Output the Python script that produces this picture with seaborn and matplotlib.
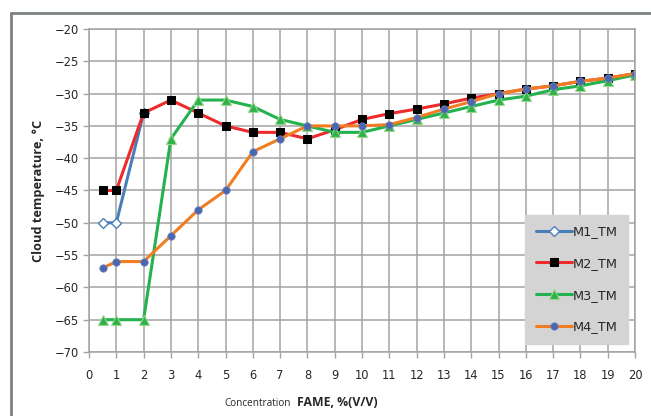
import matplotlib
matplotlib.use("Agg")
import matplotlib.pyplot as plt
import seaborn as sns
import pandas as pd
from matplotlib.lines import Line2D

# ---- data ----
x_m1 = [0.5, 1, 2]
m1_tm = [-50, -50, -33]

x_all = [0.5, 1, 2, 3, 4, 5, 6, 7, 8, 9, 10, 11, 12, 13, 14, 15, 16, 17, 18, 19, 20]
m2_tm = [-45, -45, -33, -31, -33, -35, -36, -36, -37, -35.6, -34, -33.1, -32.4, -31.6,
         -30.7, -30, -29.3, -28.8, -28.1, -27.6, -26.9]
m3_tm = [-65, -65, -65, -37, -31, -31, -32, -34, -35, -36, -36, -35, -34, -33,
         -32, -31, -30.4, -29.4, -28.8, -28, -27.1]
m4_tm = [-57, -56, -56, -52, -48, -45, -39, -37, -35, -35, -35, -34.8, -33.7, -32.4,
         -31.25, -30, -29.3, -28.8, -28.1, -27.6, -26.9]

series_names = ["M1_TM", "M2_TM", "M3_TM", "M4_TM"]
x_ticks = list(range(0, 21))
y_ticks = list(range(-70, -19, 5))
x_label_a = "Concentration"
x_label_b = "FAME, %(V/V)"
y_label = "Cloud temperature, \u00b0C"

sns.set_theme(style="white")
plt.rcParams['font.family'] = ['DejaVu Sans']

W, H = 651, 416
fig = plt.figure(figsize=(W / 100, H / 100), dpi=100)
ax = fig.add_axes([89 / W, 1 - 352 / H, (635 - 89) / W, (352 - 29) / H])

grid_c = "#a3a3a3"

styles = [
    dict(color="#4a7ebb", marker="D", markersize=5, markerfacecolor="white",
         markeredgecolor="#4a7ebb", markeredgewidth=1.0),
    dict(color="#ee2a2a", marker="s", markersize=5.3, markerfacecolor="black",
         markeredgecolor="black"),
    dict(color="#23b24e", marker="^", markersize=6.5, markerfacecolor="#2db34a",
         markeredgecolor="#9bd48e", markeredgewidth=0.8),
    dict(color="#f07d22", marker="o", markersize=5.3, markerfacecolor="#4a66ac",
         markeredgecolor="#6a7fbf", markeredgewidth=0.6),
]
xs = [x_m1, x_all, x_all, x_all]
ys = [m1_tm, m2_tm, m3_tm, m4_tm]

for name, xv, yv, st in zip(series_names, xs, ys, styles):
    df = pd.DataFrame({"x": xv, "y": yv})
    sns.lineplot(data=df, x="x", y="y", ax=ax, linewidth=2.2, label=name,
                 sort=False, **st)

ax.set_xlim(0, 20)
ax.set_ylim(-70, -20)
ax.set_xticks(x_ticks)
ax.set_yticks(y_ticks)
ax.grid(True, color=grid_c, linewidth=1.1)
ax.set_axisbelow(True)
for s in ax.spines.values():
    s.set_color(grid_c)
    s.set_linewidth(1.1)
ax.tick_params(axis="both", which="major", length=4, width=1.0, color=grid_c,
               labelsize=8.3, labelcolor="#262626", direction="out",
               bottom=True, left=True)
ax.tick_params(axis="x", pad=8)
ax.tick_params(axis="y", pad=3)
ax.set_xlabel("")
ax.set_ylabel(y_label, fontsize=9.2, fontweight="bold", family="Open Sans")
ax.yaxis.set_label_coords(-0.08, 0.5)

fig.text(291 / W, 1 - 406 / H, x_label_a, ha="right", va="baseline",
         fontsize=7.2, family="Open Sans")
fig.text(297 / W, 1 - 406 / H, x_label_b, ha="left", va="baseline",
         fontsize=8.8, fontweight="bold", family="Open Sans")

leg = ax.legend(loc="center", bbox_to_anchor=(0.789, 0.029, 0.209, 0.392),
                frameon=True, fancybox=False, labelspacing=1.45,
                handlelength=2.8, handletextpad=0.1, borderpad=0.8,
                prop={"family": "DejaVu Sans", "size": 9.3})
leg.get_frame().set_facecolor("#d4d4d4")
leg.get_frame().set_edgecolor("#d4d4d4")
leg.get_frame().set_alpha(1)

# outer chart frame (top and left only visible)
fig.add_artist(Line2D([11 / W, 1.0], [1 - 13 / H, 1 - 13 / H], color="#7c8282",
                      linewidth=2, transform=fig.transFigure))
fig.add_artist(Line2D([11 / W, 11 / W], [1 - 13 / H, 0], color="#7c8282",
                      linewidth=2, transform=fig.transFigure))

fig.savefig("out.png", dpi=100)
